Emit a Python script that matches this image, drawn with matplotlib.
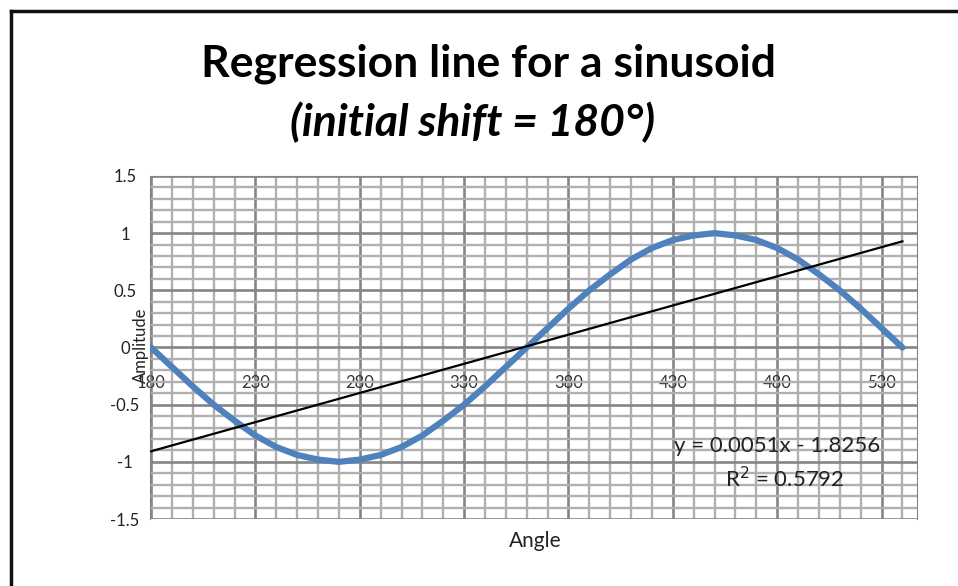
import matplotlib
matplotlib.use("Agg")
import matplotlib.pyplot as plt
from matplotlib.lines import Line2D
from matplotlib.ticker import FixedLocator, MultipleLocator

# data
angles = list(range(180, 541, 10))
amplitude = [0.00, -0.17, -0.34, -0.50, -0.64, -0.77, -0.87, -0.94, -0.98,
             -1.00, -0.98, -0.94, -0.87, -0.77, -0.64, -0.50, -0.34, -0.17,
             0.00, 0.17, 0.34, 0.50, 0.64, 0.77, 0.87, 0.94, 0.98,
             1.00, 0.98, 0.94, 0.87, 0.77, 0.64, 0.50, 0.34, 0.17, 0.00]
slope = 0.0051
intercept = -1.8256
r_squared = 0.5792
x_ticks = [180, 230, 280, 330, 380, 430, 480, 530]
y_ticks = [-1.5, -1, -0.5, 0, 0.5, 1, 1.5]
y_tick_labels = ["-1.5", "-1", "-0.5", "0", "0.5", "1", "1.5"]

FONT = ["Lato", "DejaVu Sans"]


def main():
    fig = plt.figure(figsize=(9.58, 5.86), dpi=100)
    ax = fig.add_axes([0.1566, 0.1143, 0.8006, 0.5854])

    # grid like Excel's major + minor gridlines
    ax.xaxis.set_major_locator(FixedLocator(x_ticks))
    ax.xaxis.set_minor_locator(MultipleLocator(10))
    ax.yaxis.set_major_locator(FixedLocator(y_ticks))
    ax.yaxis.set_minor_locator(MultipleLocator(0.1))
    ax.grid(which="minor", color="#b0b0b0", linewidth=1.7)
    ax.grid(which="major", color="#858585", linewidth=1.9)
    ax.set_axisbelow(True)

    ax.plot(angles, amplitude, color="#4f81bd", linewidth=4.5,
            solid_capstyle="round", zorder=3)

    trend_x = [angles[0], angles[-1]]
    trend_y = [slope * x + intercept for x in trend_x]
    ax.plot(trend_x, trend_y, color="black", linewidth=1.6, zorder=4)

    ax.set_xlim(179.5, 547)
    ax.set_ylim(-1.5, 1.5)

    # x axis crosses at y = 0, labels sit just under it
    ax.spines["bottom"].set_position(("data", 0))
    ax.spines["bottom"].set_visible(False)
    for side in ["top", "left", "right"]:
        ax.spines[side].set_color("#858585")
    ax.tick_params(which="both", length=0)
    ax.tick_params(axis="x", pad=20, labelsize=12, labelcolor="#333333")
    ax.tick_params(axis="y", pad=18, labelsize=12, labelcolor="#222222")
    ax.set_yticklabels(y_tick_labels)
    for lab in ax.get_yticklabels():
        lab.set_horizontalalignment("center")
    for lab in ax.get_xticklabels() + ax.get_yticklabels():
        lab.set_family(FONT)

    eq = f"y = {slope}x - {abs(intercept)}"
    ax.text(480, -0.86, eq, ha="center", va="center", fontsize=16,
            family=FONT, color="#222222", zorder=5)
    ax.text(483.5, -1.15, f"R$^2$ = {r_squared}", ha="center", va="center",
            fontsize=16, family=FONT, color="#222222", zorder=5)

    fig.text(0.559, 0.077, "Angle", ha="center", va="center", fontsize=15,
             family=FONT, color="#222222")
    fig.text(0.147, 0.41, "Amplitude", ha="center", va="center", rotation=90,
             fontsize=12, family=FONT, color="#222222")

    fig.text(0.510, 0.892, "Regression line for a sinusoid", ha="center",
             va="center", fontsize=32, fontweight="bold", family=FONT)
    fig.text(0.493, 0.792, "(initial shift = 180°)", ha="center", va="center",
             fontsize=32, fontweight="bold", fontstyle="italic", family=FONT)

    # dark frame on the top and left edges of the picture
    fig.add_artist(Line2D([0.011, 0.011], [0, 0.982], color="#111111",
                          linewidth=2.5, transform=fig.transFigure))
    fig.add_artist(Line2D([0.011, 1], [0.982, 0.982], color="#111111",
                          linewidth=2.5, transform=fig.transFigure))

    fig.savefig("out.png", dpi=100)


if __name__ == "__main__":
    main()
